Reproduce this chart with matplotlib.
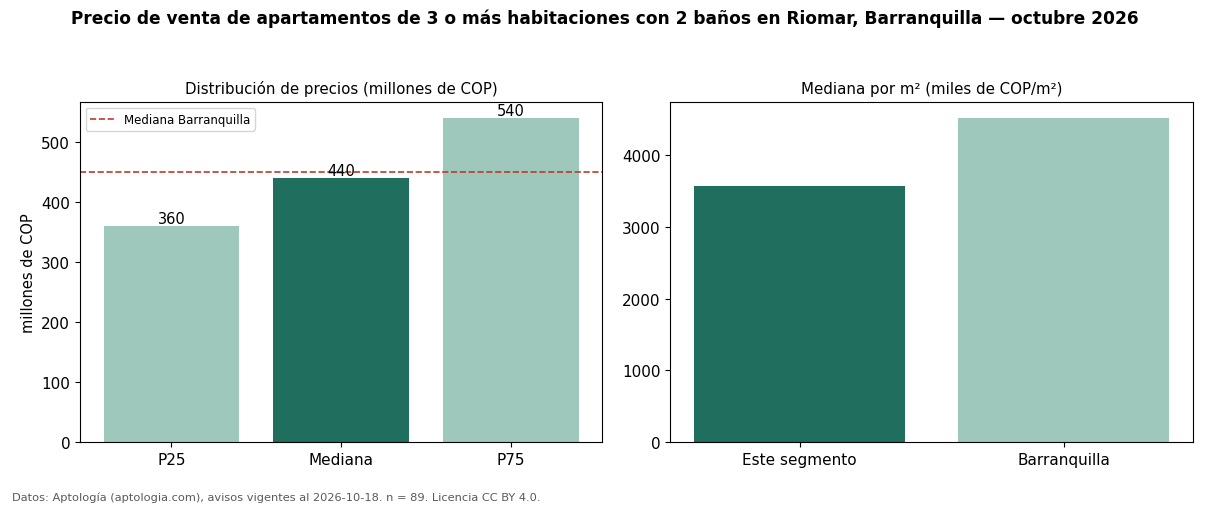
import matplotlib
matplotlib.use("Agg")
import matplotlib.pyplot as plt

# Distribution of prices (millions COP)
dist_labels = ["P25", "Mediana", "P75"]
dist_values = [360, 440, 540]
city_median_price = 450

# Median per m2 (thousands COP/m2)
m2_labels = ["Este segmento", "Barranquilla"]
m2_values = [3570, 4515]

DARK = "#1f6e5e"
LIGHT = "#9dc8bb"
RED = "#c0392b"

fig, (ax1, ax2) = plt.subplots(1, 2, figsize=(12.1, 5.06), dpi=100)
fig.subplots_adjust(left=0.066, right=0.986, top=0.796, bottom=0.1245, wspace=0.13)

# --- left: P25 / median / P75 -----------------------------------------------
bars = ax1.bar(dist_labels, dist_values, width=0.8, color=[LIGHT, DARK, LIGHT])
ax1.bar_label(bars, labels=[str(v) for v in dist_values], fontsize=10.5)
ax1.axhline(city_median_price, color=RED, linestyle="--", linewidth=1.2,
            label="Mediana Barranquilla")
ax1.set_title("Distribución de precios (millones de COP)", fontsize=10.8, pad=7)
ax1.set_ylabel("millones de COP", fontsize=10.5)
ax1.legend(loc="upper left", fontsize=8.5)
ax1.tick_params(labelsize=11)

# --- right: median per m2 -----------------------------------------------------
ax2.bar(m2_labels, m2_values, width=0.8, color=[DARK, LIGHT])
ax2.set_title("Mediana por m² (miles de COP/m²)", fontsize=10.8, pad=7)
ax2.tick_params(labelsize=11)

fig.suptitle("Precio de venta de apartamentos de 3 o más habitaciones con 2 baños "
             "en Riomar, Barranquilla — octubre 2026",
             fontsize=12.25, fontweight="bold", y=0.982)
fig.text(0.01, 0.01, "Datos: Aptología (aptologia.com), avisos vigentes al 2026-10-18. "
         "n = 89. Licencia CC BY 4.0.", fontsize=8.2, color="0.35")

fig.savefig("out.png", dpi=100)
plt.close(fig)
